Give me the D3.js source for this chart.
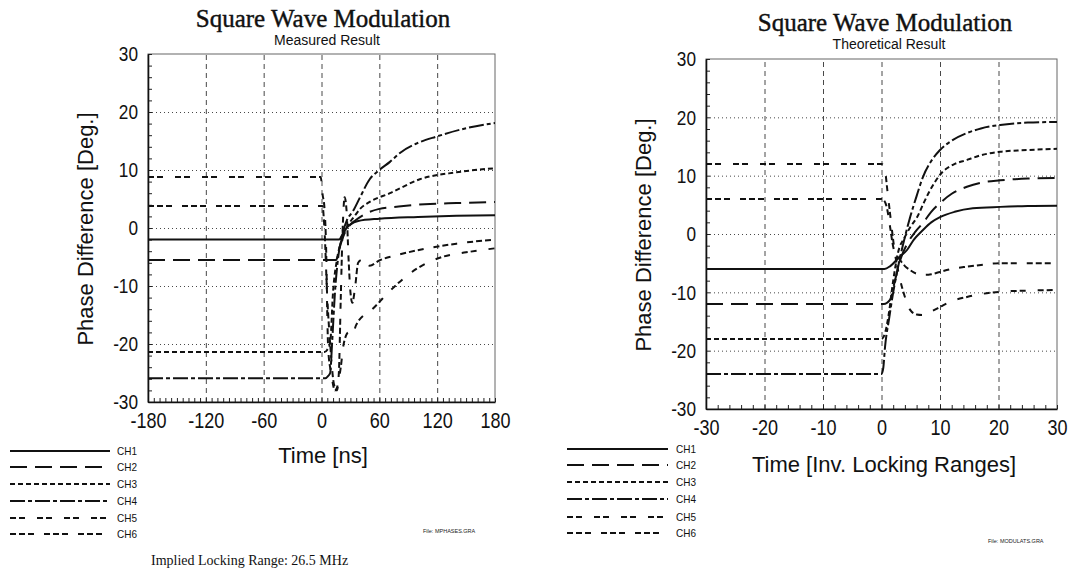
<!DOCTYPE html>
<html>
<head>
<meta charset="utf-8" />
<title>Square Wave Modulation</title>
<style>
body { margin: 0; background: #fff; }
#graph { width: 1069px; height: 571px; }
.tick text { font-family: "Liberation Sans", Arial, sans-serif; fill: #111; }
.title { font-family: "Liberation Serif", "Times New Roman", serif; font-size: 25px; fill: #111; stroke: #111; stroke-width: 0.4; }
.subtitle { font-family: "Liberation Sans", Arial, sans-serif; font-size: 14px; fill: #111; }
.axis-label { font-family: "Liberation Sans", Arial, sans-serif; font-size: 22px; fill: #111; }
.legend-label { font-family: "Liberation Sans", Arial, sans-serif; font-size: 11px; fill: #111; }
.file-label { font-family: "Liberation Sans", Arial, sans-serif; font-size: 5.5px; fill: #222; }
.note { font-family: "Liberation Serif", "Times New Roman", serif; font-size: 14px; fill: #111; }
</style>
</head>
<body>
<div id="graph"></div>
<script src="https://cdnjs.cloudflare.com/ajax/libs/d3/7.8.5/d3.min.js"></script>
<script>
!(function(){
    "use strict"

    var channels = ["CH1", "CH2", "CH3", "CH4", "CH5", "CH6"]
    var phaseTicks = [-30, -20, -10, 0, 10, 20, 30]
    var timeTicksNs = [-180, -120, -60, 0, 60, 120, 180]
    var timeTicksInv = [-30, -20, -10, 0, 10, 20, 30]

    // measured result, [time ns, phase deg]
    var measuredCH1 = [[-180,-2],[17,-2],[19,-1.9],[22,-1],[26,0],[30,0.6],[38,1.2],[60,1.6],[100,1.9],[140,2.1],[180,2.2]]
    var measuredCH2 = [[-180,-5.5],[15,-5.5],[17,-4.8],[19,-3.3],[24,-0.9],[30,0.6],[35,1.3],[45,2.4],[60,3.3],[80,3.7],[107,4.1],[140,4.3],[180,4.5]]
    var measuredCH3 = [[-180,-21.4],[3,-21.4],[6,-21],[9,-19.8],[12,-11],[16,-5.5],[21,-2],[27,0.3],[34,2],[40,3.3],[50,4.5],[71,6],[102,8.4],[140,9.6],[180,10.3]]
    var measuredCH4 = [[-180,-25.9],[4,-25.9],[7,-25.5],[9,-25],[11,-19.8],[14,-11],[17,-5.5],[21,-1.5],[26,1.2],[33,3],[40,5.3],[50,8.4],[60,10],[71,11.4],[81,12.9],[99,14.6],[120,15.8],[150,17.2],[180,18.1]]
    var measuredCH5 = [[-180,8.8],[-1,8.8],[0,8],[1,6],[3,3.6],[5,-5],[6,-15],[7,-21],[10,-25],[14,-28],[17,-27],[20,-24],[23,-20],[28,-18],[32,-18.4],[36,-16.7],[54,-13.8],[75,-10.2],[99,-7],[125,-5],[150,-4.2],[180,-3.5]]
    var measuredCH6 = [[-180,3.8],[1,3.8],[3,0],[6,-12],[9,-20],[13,-27],[16,-28],[18,-25],[20,-12],[22,0],[24,5.3],[26,3],[28,-5],[30,-11],[32,-12.9],[35,-10],[38,-6],[42,-5.5],[50,-6.5],[60,-5.6],[80,-4.6],[110,-3.5],[140,-2.7],[180,-2]]

    // theoretical result, [time inv. locking ranges, phase deg]
    var theoryCH1 = [[-30,-6],[0.5,-6],[1.5,-5.5],[3,-4],[4.4,-2.7],[5.5,-1],[7.1,0.7],[8.5,2],[10,2.9],[12.5,3.8],[15.6,4.4],[20.3,4.65],[25,4.8],[30,4.85]]
    var theoryCH2 = [[-30,-12],[0.4,-12],[1.45,-11.3],[2.3,-8],[3.2,-4.5],[4.5,-1.5],[5.8,0.4],[7.1,1.9],[8.5,3.8],[10,5.3],[12,6.9],[14.6,8.1],[17,8.8],[20.3,9.2],[25,9.5],[30,9.6]]
    var theoryCH3 = [[-30,-18],[0,-18],[0.6,-17],[1.2,-14],[2,-8],[2.8,-3.3],[4,-0.5],[5,1.3],[6.1,2.9],[7.2,5.3],[8.3,7.5],[10.3,10.5],[12.3,11.9],[14.6,12.7],[17,13.5],[20.3,14.1],[25,14.4],[30,14.6]]
    var theoryCH4 = [[-30,-24],[0,-24],[0.3,-23],[0.6,-19.4],[1.3,-14.5],[2,-10],[2.6,-6.8],[3.2,-3.9],[4,-0.5],[4.9,2.9],[6,6.5],[7.1,9.8],[8.5,12.5],[10,14.4],[12,16],[14.6,17.3],[17,18.1],[20.3,18.7],[25,19.1],[30,19.2]]
    var theoryCH5 = [[-30,12],[0,12],[0.3,11.8],[0.6,11],[1,7.5],[1.45,3.6],[2.3,-3.3],[3.2,-7.9],[4,-10.8],[4.9,-13],[6,-13.8],[7.1,-13.9],[8.5,-13.3],[10,-12.5],[12,-11.5],[14.6,-10.8],[17,-10.3],[20.3,-9.9],[25,-9.7],[30,-9.6]]
    var theoryCH6 = [[-30,6],[0,6],[0.4,5.8],[0.9,4.6],[1.5,1],[2,-2.2],[2.6,-3.6],[3.2,-4.5],[4,-5.5],[4.9,-6.2],[6,-6.8],[7.4,-7],[8.5,-6.9],[10,-6.5],[12,-6],[14.6,-5.6],[17,-5.3],[20.3,-5],[25,-5],[30,-5]]

    var dashes = ["none", "17,8", "5,3", "15,3,4,3", "6,3,6,12", "6,3,6,3,6,10"]
    var narrow = 0.82   // tick labels are in a condensed face

    var svg = d3.select("#graph").append("svg")
        .attr("width", 1069).attr("height", 571)

    drawPanel({
        id: "m",
        left: 148, right: 495, top: 54, bottom: 402,
        xDomain: [-180, 180], xTicks: timeTicksNs, xMinor: 6, yMinor: 2,
        title: "Square Wave Modulation", subtitle: "Measured Result",
        titleX: 323, titleY: 27, subX: 327, subY: 45,
        xLabel: "Time [ns]", xLabelX: 323, xLabelY: 463,
        yLabelX: 93, yLabelY: 229,
        series: [measuredCH1, measuredCH2, measuredCH3, measuredCH4, measuredCH5, measuredCH6],
        legendX: [10, 110], legendY: [451, 467, 484, 501, 518, 534], legendText: 117,
        file: "File: MPHASES.GRA", fileX: 423, fileY: 533
    })

    drawPanel({
        id: "t",
        left: 706, right: 1057, top: 59, bottom: 409,
        xDomain: [-30, 30], xTicks: timeTicksInv, xMinor: 2, yMinor: 2,
        title: "Square Wave Modulation", subtitle: "Theoretical Result",
        titleX: 885, titleY: 31, subX: 889, subY: 49,
        xLabel: "Time [Inv. Locking Ranges]", xLabelX: 884, xLabelY: 472,
        yLabelX: 651, yLabelY: 235,
        series: [theoryCH1, theoryCH2, theoryCH3, theoryCH4, theoryCH5, theoryCH6],
        legendX: [567, 668], legendY: [449, 465, 482, 499, 517, 533], legendText: 676,
        file: "File: MODULATS.GRA", fileX: 988, fileY: 543
    })

    svg.append("text").attr("class", "note")
        .attr("x", 151).attr("y", 565)
        .text("Implied Locking Range: 26.5 MHz")

    function plain(d) { return String(d) }

    function drawPanel(p) {
        var x = d3.scaleLinear().domain(p.xDomain).range([p.left, p.right])
        var y = d3.scaleLinear().domain([-30, 30]).range([p.bottom, p.top])
        var w = p.right - p.left, h = p.bottom - p.top
        var g = svg.append("g")

        // grid
        g.append("g").attr("transform", "translate(0," + p.bottom + ")")
            .call(d3.axisBottom(x).tickValues(p.xTicks.slice(1, -1)).tickSize(-h).tickFormat(""))
            .call(function(s){ s.select(".domain").remove() })
            .selectAll("line").attr("stroke", "#333").attr("stroke-width", 0.9).attr("stroke-dasharray", "5,4")
        g.append("g").attr("transform", "translate(" + p.left + ",0)")
            .call(d3.axisLeft(y).tickValues(phaseTicks.slice(1, -1)).tickSize(-w).tickFormat(""))
            .call(function(s){ s.select(".domain").remove() })
            .selectAll("line").attr("stroke", "#333").attr("stroke-width", 0.9).attr("stroke-dasharray", "1,3")

        // frame
        g.append("rect").attr("x", p.left).attr("y", p.top).attr("width", w).attr("height", h)
            .attr("fill", "none").attr("stroke", "#666").attr("stroke-width", 1)

        // minor ticks
        var mx = d3.range(p.xDomain[0], p.xDomain[1] + 0.001, p.xMinor)
        var my = d3.range(-30, 30.001, p.yMinor)
        g.append("g").attr("transform", "translate(0," + p.bottom + ")")
            .call(d3.axisTop(x).tickValues(mx).tickSize(4).tickFormat("").tickSizeOuter(0))
            .call(function(s){ s.select(".domain").remove() })
            .selectAll("line").attr("stroke", "#222")
        g.append("g").attr("transform", "translate(" + p.left + ",0)")
            .call(d3.axisRight(y).tickValues(my).tickSize(4).tickFormat("").tickSizeOuter(0))
            .call(function(s){ s.select(".domain").remove() })
            .selectAll("line").attr("stroke", "#222")

        // main axes
        var xa = g.append("g").attr("transform", "translate(0," + p.bottom + ")")
            .call(d3.axisBottom(x).tickValues(p.xTicks).tickFormat(plain).tickSize(0).tickPadding(10).tickSizeOuter(0))
        xa.select(".domain").attr("stroke", "#111").attr("stroke-width", 1.6)
        xa.selectAll("text").attr("font-size", 22).attr("dy", "0.71em")
            .attr("transform", "scale(" + narrow + ",1)")
        var ya = g.append("g").attr("transform", "translate(" + p.left + ",0)")
            .call(d3.axisLeft(y).tickValues(phaseTicks).tickFormat(plain).tickSize(0).tickPadding(10).tickSizeOuter(0))
        ya.select(".domain").attr("stroke", "#111").attr("stroke-width", 1.6)
        ya.selectAll("text").attr("font-size", 21).attr("x", -10 / narrow)
            .attr("transform", "scale(" + narrow + ",1)")

        // series
        var clipId = "clip-" + p.id
        svg.append("clipPath").attr("id", clipId).append("rect")
            .attr("x", p.left).attr("y", p.top - 2).attr("width", w).attr("height", h + 4)
        var line = d3.line().x(function(d){ return x(d[0]) }).y(function(d){ return y(d[1]) })
            .curve(d3.curveMonotoneX)
        g.append("g").attr("clip-path", "url(#" + clipId + ")")
            .selectAll("path").data(p.series).enter().append("path")
            .attr("d", line)
            .attr("fill", "none").attr("stroke", "#111").attr("stroke-width", 2)
            .attr("stroke-dasharray", function(d, i){ return dashes[i] })

        // titles
        g.append("text").attr("class", "title").attr("x", p.titleX).attr("y", p.titleY)
            .attr("text-anchor", "middle").text(p.title)
        g.append("text").attr("class", "subtitle").attr("x", p.subX).attr("y", p.subY)
            .attr("text-anchor", "middle").text(p.subtitle)
        g.append("text").attr("class", "axis-label").attr("x", p.xLabelX).attr("y", p.xLabelY)
            .attr("text-anchor", "middle").text(p.xLabel)
        g.append("text").attr("class", "axis-label")
            .attr("transform", "translate(" + p.yLabelX + "," + p.yLabelY + ") rotate(-90)")
            .attr("text-anchor", "middle").text("Phase Difference [Deg.]")

        // legend
        var lg = g.append("g")
        channels.forEach(function(c, i){
            lg.append("line").attr("x1", p.legendX[0]).attr("x2", p.legendX[1])
                .attr("y1", p.legendY[i]).attr("y2", p.legendY[i])
                .attr("stroke", "#111").attr("stroke-width", 2).attr("stroke-dasharray", dashes[i])
            lg.append("text").attr("class", "legend-label").attr("x", p.legendText).attr("y", p.legendY[i] + 4)
                .attr("textLength", 20).attr("lengthAdjust", "spacingAndGlyphs")
                .text(c)
        })

        g.append("text").attr("class", "file-label").attr("x", p.fileX).attr("y", p.fileY).text(p.file)
    }
}());
</script>
</body>
</html>
